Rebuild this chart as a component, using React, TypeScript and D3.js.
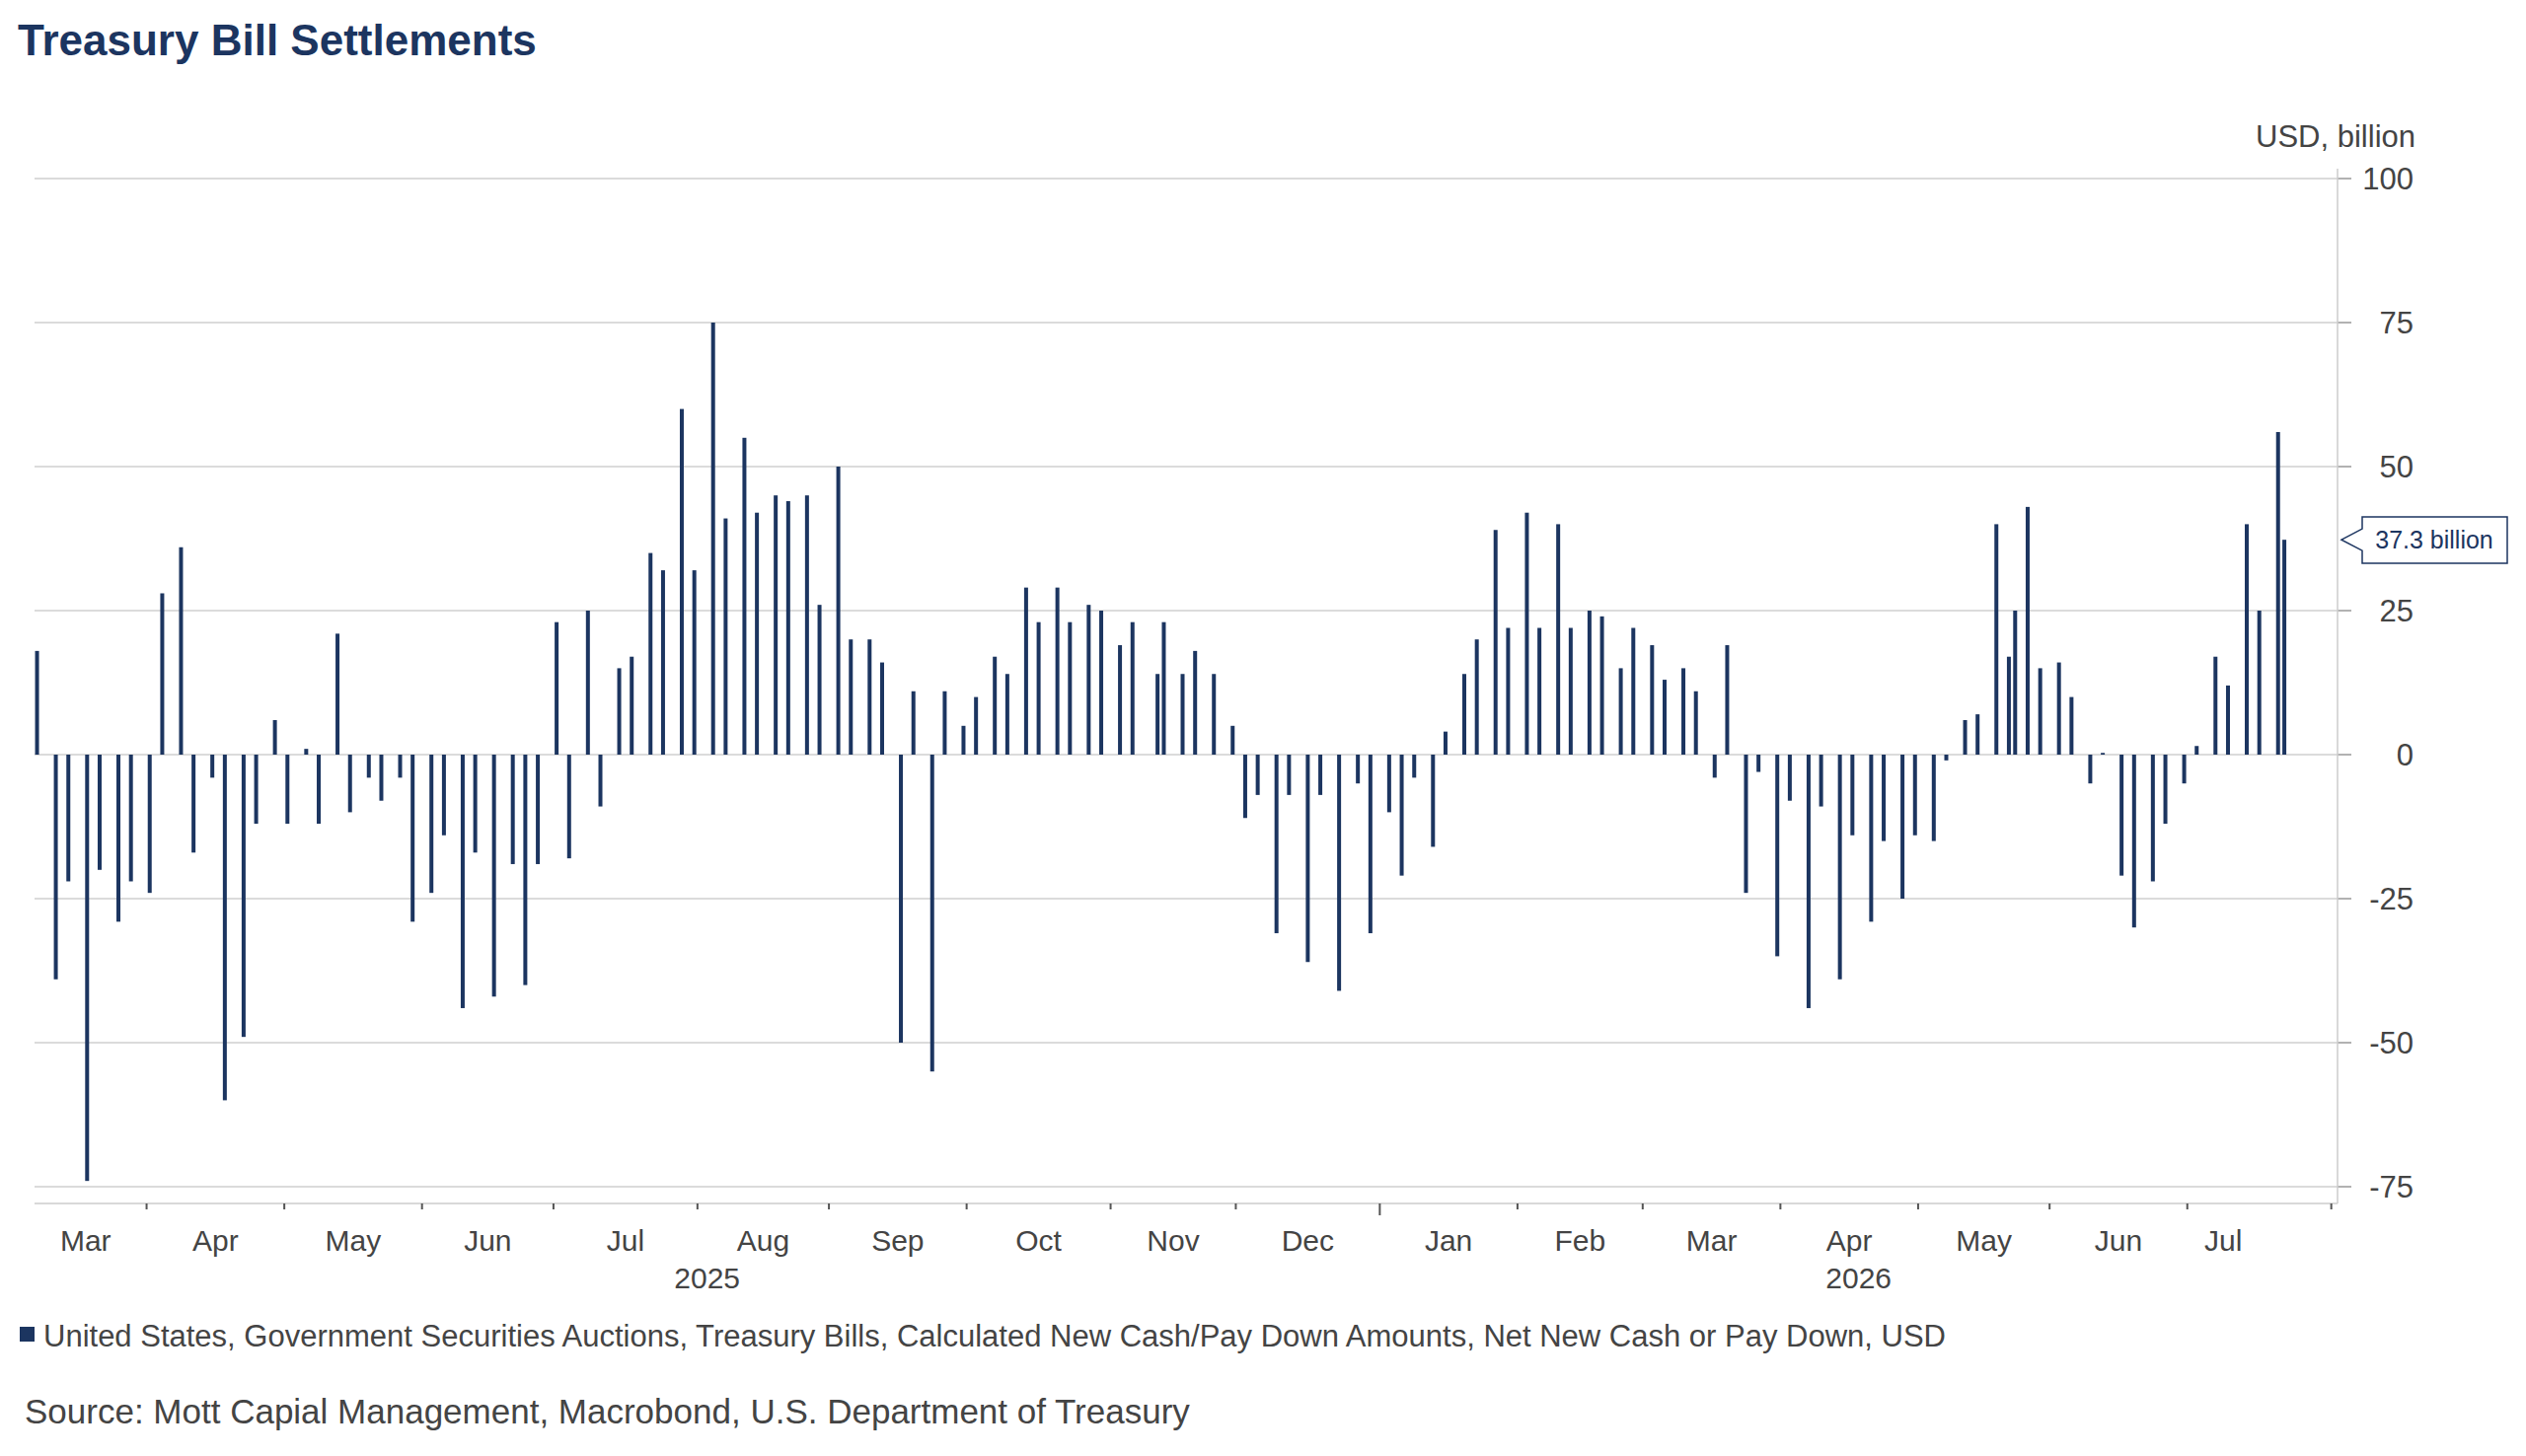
import React from "react";
import * as d3 from "d3";

// settlement dates (business-day axis) and net new cash, USD billion
const dates2025 = [
  "2025-03-06", "2025-03-11", "2025-03-13", "2025-03-18", "2025-03-20", "2025-03-25", "2025-03-27",
  "2025-04-01", "2025-04-03", "2025-04-08", "2025-04-10", "2025-04-15", "2025-04-17", "2025-04-22", "2025-04-24", "2025-04-29",
  "2025-05-01", "2025-05-06", "2025-05-08", "2025-05-13", "2025-05-15", "2025-05-20", "2025-05-22", "2025-05-27", "2025-05-29",
  "2025-06-03", "2025-06-05", "2025-06-10", "2025-06-12", "2025-06-17", "2025-06-20", "2025-06-24", "2025-06-26",
  "2025-07-01", "2025-07-03", "2025-07-08", "2025-07-10", "2025-07-15", "2025-07-17", "2025-07-22", "2025-07-24", "2025-07-29", "2025-07-31",
  "2025-08-05", "2025-08-07", "2025-08-12", "2025-08-14", "2025-08-19", "2025-08-21", "2025-08-26", "2025-08-28",
  "2025-09-02", "2025-09-04", "2025-09-09", "2025-09-11", "2025-09-16", "2025-09-18", "2025-09-23", "2025-09-25", "2025-09-30",
  "2025-10-02", "2025-10-07", "2025-10-09", "2025-10-14", "2025-10-16", "2025-10-21", "2025-10-23", "2025-10-28", "2025-10-30",
  "2025-11-04", "2025-11-06", "2025-11-12", "2025-11-13", "2025-11-18", "2025-11-20", "2025-11-25", "2025-11-28",
  "2025-12-02", "2025-12-04", "2025-12-09", "2025-12-11", "2025-12-16", "2025-12-18", "2025-12-23", "2025-12-26", "2025-12-30",
];
const values2025 = [
  18, -39, -22, -74, -20, -29, -22,
  -24, 28, 36, -17, -4, -60, -49, -12, 6,
  -12, 1, -12, 21, -10, -4, -8, -4, -29,
  -24, -14, -44, -17, -42, -19, -40, -19,
  23, -18, 25, -9, 15, 17, 35, 32, 60, 32,
  75, 41, 55, 42, 45, 44, 45, 26,
  50, 20, 20, 16, -50, 11, -55, 11, 5,
  10, 17, 14, 29, 23, 29, 23, 26, 25,
  19, 23, 14, 23, 14, 18, 14, 5,
  -11, -7, -31, -7, -36, -7, -41, -5, -31,
];
const dates2026 = [
  "2026-01-02", "2026-01-06", "2026-01-08", "2026-01-13", "2026-01-15", "2026-01-20", "2026-01-22", "2026-01-27", "2026-01-29",
  "2026-02-03", "2026-02-05", "2026-02-10", "2026-02-12", "2026-02-17", "2026-02-19", "2026-02-24", "2026-02-26",
  "2026-03-03", "2026-03-05", "2026-03-10", "2026-03-12", "2026-03-17", "2026-03-19", "2026-03-24", "2026-03-26", "2026-03-31",
  "2026-04-02", "2026-04-07", "2026-04-09", "2026-04-14", "2026-04-16", "2026-04-21", "2026-04-23", "2026-04-28", "2026-04-30",
  "2026-05-05", "2026-05-07", "2026-05-12", "2026-05-14", "2026-05-19", "2026-05-21", "2026-05-22", "2026-05-26", "2026-05-28",
  "2026-06-02", "2026-06-04", "2026-06-09", "2026-06-11", "2026-06-16", "2026-06-18", "2026-06-23", "2026-06-25", "2026-06-30",
  "2026-07-02", "2026-07-07", "2026-07-09", "2026-07-14", "2026-07-16", "2026-07-21", "2026-07-22",
];
const values2026 = [
  -10, -21, -4, -16, 4, 14, 20, 39, 22,
  42, 22, 40, 22, 25, 24, 15, 22,
  19, 13, 15, 11, -4, 19, -24, -3, -35,
  -8, -44, -9, -39, -14, -29, -15, -25, -14,
  -15, -1, 6, 7, 40, 17, 25, 43, 15,
  16, 10, -5, 0.3, -21, -30, -22, -12, -5,
  1.5, 17, 12, 40, 25, 56, 37.3,
];
const yTicks = [-75, -50, -25, 0, 25, 50, 75, 100];
const lastLabel = "37.3 billion";

const W = 2560, H = 1476;
const NAVY = "#1c3560";
const TEXT = "#444";
const FONT = "'Liberation Sans', Arial, sans-serif";

const parse = d3.utcParse("%Y-%m-%d");
const origin = parse("2025-03-06")!;
// weekday index from origin
const bd = (d: Date) => {
  const days = Math.round((+d - +origin) / 864e5);
  const w = Math.floor(days / 7);
  let n = w * 5;
  for (let i = w * 7; i < days; i++) {
    const dow = new Date(+origin + i * 864e5).getUTCDay();
    if (dow !== 0 && dow !== 6) n++;
  }
  return n;
};

export default function App() {
  const data = [...dates2025, ...dates2026].map((s, i) => ({
    date: parse(s)!,
    value: [...values2025, ...values2026][i],
  }));
  const lastIdx = bd(data[data.length - 1].date);
  const left = 35, right = 2369;
  const x = d3.scaleLinear().domain([-0.4, lastIdx + 8.5]).range([left, right]);
  const y = d3.scaleLinear().domain([-75, 100]).range([1203, 181]);
  const axisY = 1220;

  const months = d3.utcMonths(parse("2025-04-01")!, parse("2026-08-02")!);
  const firstBd = (m: Date) => {
    let d = m;
    while (d.getUTCDay() === 0 || d.getUTCDay() === 6) d = d3.utcDay.offset(d, 1);
    return bd(d) - 0.5;
  };
  const tickX = months.map((m) => ({ m, x: x(firstBd(m)) }));
  const bounds = [left - 10, ...tickX.map((t) => t.x)];
  const monthStarts = [parse("2025-03-01")!, ...months];
  const labels = monthStarts.slice(0, -1).map((m, i) => ({
    text: d3.utcFormat("%b")(m),
    x: (bounds[i] + Math.min(bounds[i + 1], x(lastIdx - 4))) / 2,
  }));
  const janX = x(firstBd(parse("2026-01-01")!));
  const yearLabels = [
    { text: "2025", x: (left + janX) / 2 },
    { text: "2026", x: (janX + right) / 2 },
  ];
  const ly = y(data[data.length - 1].value);

  return (
    <svg width={W} height={H} style={{ position: "absolute", left: 0, top: 0, background: "#fff" }} fontFamily={FONT}>
      <text x={18} y={56} fontSize={44} fontWeight="bold" fill={NAVY}>Treasury Bill Settlements</text>
      <text x={2448} y={149} fontSize={31} fill={TEXT} textAnchor="end">USD, billion</text>
      {yTicks.map((t) => (
        <g key={t}>
          <line x1={left} x2={right} y1={y(t)} y2={y(t)} stroke="#cfcfcf" strokeWidth={1.5} />
          <line x1={right} x2={right + 14} y1={y(t)} y2={y(t)} stroke="#999" strokeWidth={1.5} />
          <text x={2446} y={y(t) + 11} fontSize={31} fill={TEXT} textAnchor="end">{t}</text>
        </g>
      ))}
      <line x1={right} x2={right} y1={171} y2={axisY} stroke="#ccc" strokeWidth={1.5} />
      <line x1={left} x2={right} y1={axisY} y2={axisY} stroke="#ccc" strokeWidth={1.5} />
      {tickX.map((t, i) => (
        <line key={i} x1={t.x} x2={t.x} y1={axisY} y2={axisY + (+t.m === +parse("2026-01-01")! ? 12 : 6)} stroke="#555" strokeWidth={2} />
      ))}
      {labels.map((l, i) => (
        <text key={i} x={l.x} y={1268} fontSize={30} fill={TEXT} textAnchor="middle">{l.text}</text>
      ))}
      {yearLabels.map((l) => (
        <text key={l.text} x={l.x} y={1306} fontSize={30} fill={TEXT} textAnchor="middle">{l.text}</text>
      ))}
      {data.map((d, i) => (
        <rect key={i} x={x(bd(d.date)) - 2} width={4}
          y={Math.min(y(d.value), y(0))} height={Math.max(1, Math.abs(y(d.value) - y(0)))} fill={NAVY} />
      ))}
      <path d={`M${right + 4},${ly} L2394,${ly - 11} V524 H2541 V571 H2394 V${ly + 11} Z`} fill="#fff" stroke={NAVY} strokeWidth={1.5} />
      <text x={2467} y={ly + 9} fontSize={25} fill={NAVY} textAnchor="middle">{lastLabel}</text>
      <rect x={20} y={1345} width={15} height={15} fill={NAVY} />
      <text x={44} y={1365} fontSize={31} fill={TEXT}>United States, Government Securities Auctions, Treasury Bills, Calculated New Cash/Pay Down Amounts, Net New Cash or Pay Down, USD</text>
      <text x={25} y={1443} fontSize={35} fill={TEXT}>Source: Mott Capial Management, Macrobond, U.S. Department of Treasury</text>
    </svg>
  );
}
